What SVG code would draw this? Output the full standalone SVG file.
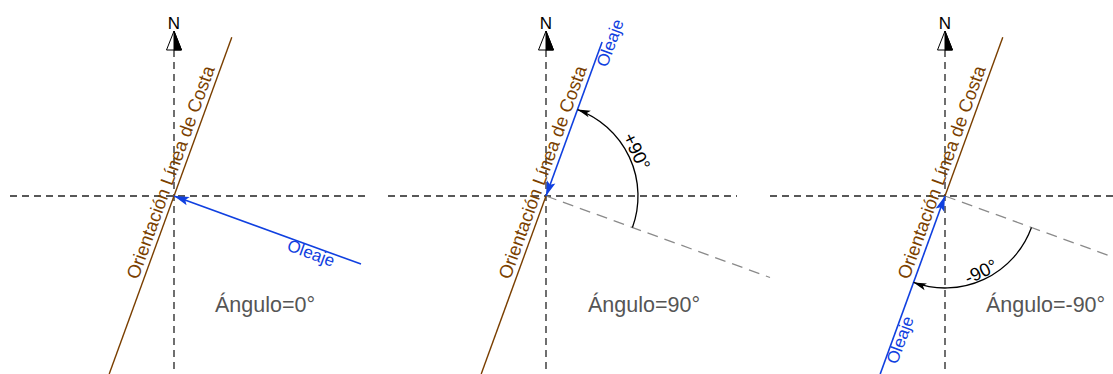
<svg xmlns="http://www.w3.org/2000/svg" width="1113" height="374" viewBox="0 0 1113 374">
<style>
.axis{stroke:#222;stroke-width:1.3;stroke-dasharray:7,5;fill:none}
.ref{stroke:#8a8a8a;stroke-width:1.3;stroke-dasharray:11,7;fill:none}
.coast{stroke:#7a3f00;stroke-width:1.4;fill:none}
.wave{stroke:#1040e0;stroke-width:1.6;fill:none;marker-end:url(#ba)}
.arc{stroke:#000;stroke-width:1.3;fill:none;marker-end:url(#ka)}
text{font-family:"Liberation Sans",Arial,sans-serif}
.ct{fill:#7a3f00;font-size:18.5px;text-anchor:middle}
.wt{fill:#1040e0;font-size:17px;text-anchor:middle}
.ang{fill:#555;font-size:21.5px}
.deg{fill:#000;font-size:18.5px;text-anchor:middle}
.nt{fill:#000;font-size:17px;text-anchor:middle}
</style>
<defs>
<marker id="ba" markerUnits="userSpaceOnUse" viewBox="-16 -6 17 12" refX="0" refY="0" markerWidth="17" markerHeight="12" orient="auto">
<path d="M0,0 L-15,-4.5 L-12,0 L-15,4.5 Z" fill="#1040e0"/>
</marker>
<marker id="ka" markerUnits="userSpaceOnUse" viewBox="-15 -5 16 10" refX="0" refY="0" markerWidth="16" markerHeight="10" orient="auto">
<path d="M0,0 L-13,-3.5 L-10,0 L-13,3.5 Z" fill="#000"/>
</marker>
<g id="north">
<path d="M0,31 L-7.5,50 L7.5,50 Z" fill="#fff" stroke="#000" stroke-width="1"/>
<path d="M0,31 L7.5,50 L0,50 Z" fill="#000" stroke="#000" stroke-width="1"/>
<text class="nt" x="0" y="29">N</text>
</g>
</defs>
<g id="panel1">
<line class="axis" x1="174" y1="50" x2="174" y2="374"/>
<line class="axis" x1="10" y1="196" x2="365" y2="196"/>
<use href="#north" x="174" y="0"/>
<line class="coast" x1="231.8" y1="37.2" x2="109.2" y2="374"/>
<text class="ct" transform="translate(176.5,174.5) rotate(-70)">Orientación Línea de Costa</text>
<path class="wave" d="M361,264.1 L174,196"/>
<text class="wt" transform="translate(309,258.5) rotate(20)">Oleaje</text>
<text class="ang" x="215" y="312">Ángulo=0°</text>
</g>
<g id="panel2">
<line class="axis" x1="546" y1="50" x2="546" y2="374"/>
<line class="axis" x1="388" y1="196" x2="737" y2="196"/>
<use href="#north" x="546" y="0"/>
<line class="ref" x1="546" y1="196" x2="770" y2="277.5"/>
<line class="coast" x1="546" y1="196" x2="481.2" y2="374"/>
<text class="ct" transform="translate(548.5,174.5) rotate(-70)">Orientación Línea de Costa</text>
<path class="wave" d="M602.1,41.9 L546,196"/>
<text class="wt" transform="translate(615.5,45) rotate(-70)">Oleaje</text>
<path class="arc" d="M632.45,227.47 A92,92 0 0 0 577.47,109.55"/>
<text class="deg" transform="translate(631.1,154.1) rotate(64)">+90°</text>
<text class="ang" x="588" y="312">Ángulo=90°</text>
</g>
<g id="panel3">
<line class="axis" x1="945" y1="50" x2="945" y2="374"/>
<line class="axis" x1="770" y1="196" x2="1113" y2="196"/>
<use href="#north" x="945" y="0"/>
<line class="ref" x1="945" y1="196" x2="1113" y2="257.1"/>
<line class="coast" x1="1002.8" y1="37.2" x2="945" y2="196"/>
<text class="ct" transform="translate(947.5,174.5) rotate(-70)">Orientación Línea de Costa</text>
<path class="wave" d="M880.2,374 L945,196"/>
<text class="wt" transform="translate(905.5,342) rotate(-70)">Oleaje</text>
<path class="arc" d="M1031.45,227.47 A92,92 0 0 1 913.53,282.45"/>
<text class="deg" transform="translate(983.6,277.4) rotate(-25.4)">-90°</text>
<text class="ang" x="986" y="312">Ángulo=-90°</text>
</g>
</svg>
